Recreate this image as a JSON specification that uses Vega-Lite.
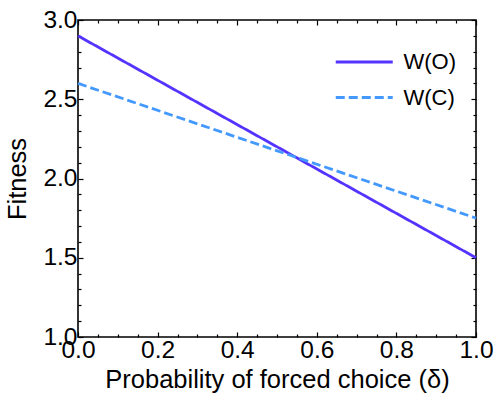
{
  "$schema": "https://vega.github.io/schema/vega-lite/v6.json",
  "autosize": {"type": "none"},
  "padding": {"left": 78, "top": 20, "right": 23, "bottom": 66},
  "width": 398,
  "height": 317,
  "config": {
    "view": {"stroke": "black", "strokeWidth": 1.6},
    "font": "Liberation Sans",
    "axis": {"domain": false, "grid": false, "tickColor": "black", "tickWidth": 1.2, "labelColor": "black", "titleColor": "black", "labelFont": "Liberation Sans", "titleFont": "Liberation Sans", "titleFontWeight": "normal"}
  },
  "data": {"values": [
    {"p": 0, "w": 2.9, "s": "W(O)"},
    {"p": 1, "w": 1.5, "s": "W(O)"},
    {"p": 0, "w": 2.6, "s": "W(C)"},
    {"p": 1, "w": 1.75, "s": "W(C)"}
  ]},
  "resolve": {"scale": {"x": "independent", "y": "independent"}, "axis": {"x": "independent", "y": "independent"}},
  "layer": [
    {
      "mark": {"type": "line", "strokeWidth": 2.8},
      "encoding": {
        "x": {"field": "p", "type": "quantitative", "scale": {"domain": [0, 1], "nice": false, "zero": false},
          "axis": {"orient": "bottom", "values": [0, 0.2, 0.4, 0.6, 0.8, 1.0], "format": ".1f", "tickSize": -5, "labelPadding": 6, "labelFontSize": 24.5, "labelFlush": false, "labelOverlap": false, "title": "Probability of forced choice (δ)", "titleFontSize": 25.5, "titlePadding": 6}},
        "y": {"field": "w", "type": "quantitative", "scale": {"domain": [1, 3], "nice": false, "zero": false},
          "axis": {"orient": "left", "values": [1, 1.5, 2, 2.5, 3], "format": ".1f", "tickSize": -5, "labelPadding": 6, "labelFontSize": 24.5, "labelFlush": false, "labelOverlap": false, "title": "Fitness", "titleFontSize": 25.5, "titlePadding": 12}},
        "color": {"field": "s", "type": "nominal", "sort": ["W(O)", "W(C)"],
          "scale": {"domain": ["W(O)", "W(C)"], "range": ["#5533ff", "#4499ff"]},
          "legend": {"title": null, "orient": "none", "legendX": 256, "legendY": 26, "symbolType": "M-1,0H3", "symbolSize": 812, "symbolStrokeWidth": 2.8, "symbolFillColor": "transparent", "labelFontSize": 22, "labelFont": "Liberation Sans", "labelColor": "black", "rowPadding": 8.5, "labelOffset": 37.5}},
        "strokeDash": {"field": "s", "type": "nominal", "sort": ["W(O)", "W(C)"],
          "scale": {"domain": ["W(O)", "W(C)"], "range": [[1, 0], [9, 4]]}, "legend": null}
      }
    },
    {
      "mark": {"type": "line", "opacity": 0},
      "encoding": {
        "x": {"field": "p", "type": "quantitative", "scale": {"domain": [0, 1], "nice": false, "zero": false},
          "axis": {"orient": "top", "values": [0, 0.2, 0.4, 0.6, 0.8, 1.0], "tickSize": -5, "labels": false, "title": null}},
        "y": {"field": "w", "type": "quantitative", "scale": {"domain": [1, 3], "nice": false, "zero": false},
          "axis": {"orient": "right", "values": [1, 1.5, 2, 2.5, 3], "tickSize": -5, "labels": false, "title": null}}
      }
    },
    {
      "mark": {"type": "line", "opacity": 0},
      "encoding": {
        "x": {"field": "p", "type": "quantitative", "scale": {"domain": [0, 1], "nice": false, "zero": false},
          "axis": {"orient": "bottom", "values": [0.05, 0.1, 0.15, 0.25, 0.3, 0.35, 0.45, 0.5, 0.55, 0.65, 0.7, 0.75, 0.85, 0.9, 0.95], "tickSize": -3, "labels": false, "title": null}},
        "y": {"field": "w", "type": "quantitative", "scale": {"domain": [1, 3], "nice": false, "zero": false},
          "axis": {"orient": "left", "values": [1.1, 1.2, 1.3, 1.4, 1.6, 1.7, 1.8, 1.9, 2.1, 2.2, 2.3, 2.4, 2.6, 2.7, 2.8, 2.9], "tickSize": -3, "labels": false, "title": null}}
      }
    },
    {
      "mark": {"type": "line", "opacity": 0},
      "encoding": {
        "x": {"field": "p", "type": "quantitative", "scale": {"domain": [0, 1], "nice": false, "zero": false},
          "axis": {"orient": "top", "values": [0.05, 0.1, 0.15, 0.25, 0.3, 0.35, 0.45, 0.5, 0.55, 0.65, 0.7, 0.75, 0.85, 0.9, 0.95], "tickSize": -3, "labels": false, "title": null}},
        "y": {"field": "w", "type": "quantitative", "scale": {"domain": [1, 3], "nice": false, "zero": false},
          "axis": {"orient": "right", "values": [1.1, 1.2, 1.3, 1.4, 1.6, 1.7, 1.8, 1.9, 2.1, 2.2, 2.3, 2.4, 2.6, 2.7, 2.8, 2.9], "tickSize": -3, "labels": false, "title": null}}
      }
    }
  ]
}
